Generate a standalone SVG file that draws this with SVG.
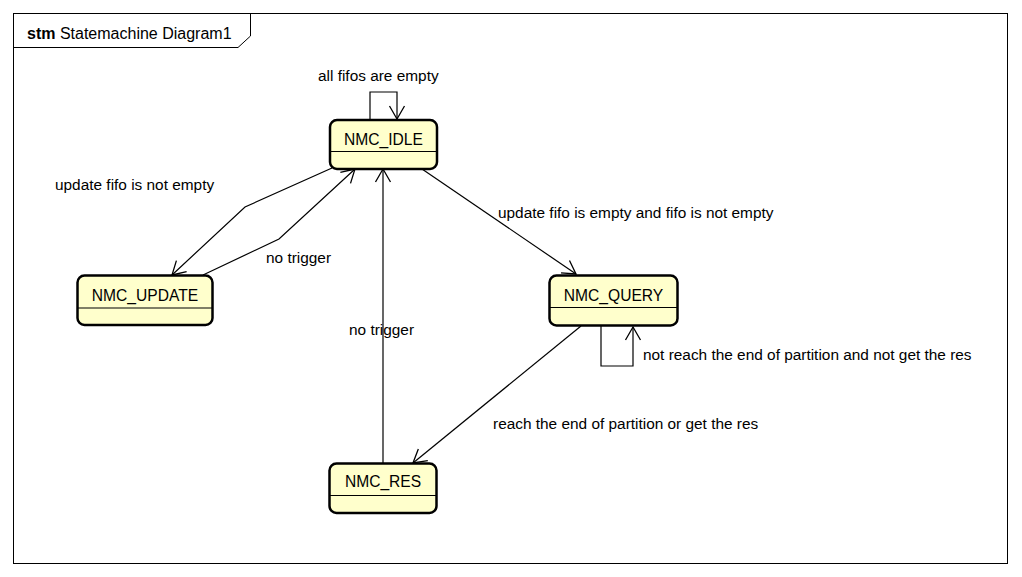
<svg xmlns="http://www.w3.org/2000/svg" width="1022" height="577" viewBox="0 0 1022 577">
<style>
text{font-family:"Liberation Sans",Arial,sans-serif;font-size:15.4px;fill:#000}
.state rect{fill:#FFFFCC;stroke:#000;stroke-width:2.5}
.state line{stroke:#000;stroke-width:1.2}
.state text{text-anchor:middle;font-size:15.6px}
.edge{fill:none;stroke:#000;stroke-width:1.2}
</style>
<defs>
<marker id="arr" markerUnits="userSpaceOnUse" markerWidth="20" markerHeight="20" viewBox="-15 -10 20 20" refX="0" refY="0" orient="auto" overflow="visible">
<path d="M-13,-7.5 L0,0 L-13,7.5" fill="none" stroke="#000" stroke-width="1.3"/>
</marker>
</defs>
<rect width="1022" height="577" fill="#fff"/>
<g id="frame">
<rect x="13.5" y="13.5" width="994" height="550" fill="none" stroke="#000" stroke-width="1"/>
<path d="M13.5,47.5 H238 L250.5,36 V13.5" fill="none" stroke="#000" stroke-width="1"/>
<text x="27" y="39" style="font-size:16px"><tspan font-weight="bold">stm</tspan> Statemachine Diagram1</text>
</g>
<g id="connectors">
<path class="edge" d="M370,120 V92 H397 V119" marker-end="url(#arr)"/>
<path class="edge" d="M332,168 L245,207 L172,275" marker-end="url(#arr)"/>
<path class="edge" d="M203,275 L279,239 L355,169" marker-end="url(#arr)"/>
<path class="edge" d="M383,463 V169" marker-end="url(#arr)"/>
<path class="edge" d="M422,169 L576,274" marker-end="url(#arr)"/>
<path class="edge" d="M601,326 V366 H633 V327" marker-end="url(#arr)"/>
<path class="edge" d="M581,326 L413,463" marker-end="url(#arr)"/>
<text x="318" y="81">all fifos are empty</text>
<text x="55" y="190">update fifo is not empty</text>
<text x="266" y="263">no trigger</text>
<text x="349" y="335">no trigger</text>
<text x="498" y="218">update fifo is empty and fifo is not empty</text>
<text x="643" y="360">not reach the end of partition and not get the res</text>
<text x="493" y="429">reach the end of partition or get the res</text>
</g>
<g id="NMC_IDLE" class="state">
<rect x="330" y="120" width="107" height="49" rx="7"/>
<line x1="331" y1="151.5" x2="436" y2="151.5"/>
<text x="383.5" y="145">NMC_IDLE</text>
</g>
<g id="NMC_UPDATE" class="state">
<rect x="77.5" y="275.5" width="135" height="49.5" rx="7"/>
<line x1="78" y1="308" x2="212" y2="308"/>
<text x="145" y="301">NMC_UPDATE</text>
</g>
<g id="NMC_QUERY" class="state">
<rect x="549.5" y="275.5" width="128" height="50" rx="7"/>
<line x1="550" y1="307.5" x2="677" y2="307.5"/>
<text x="613.5" y="301">NMC_QUERY</text>
</g>
<g id="NMC_RES" class="state">
<rect x="329.5" y="463.5" width="107" height="49.5" rx="7"/>
<line x1="330" y1="495.5" x2="436" y2="495.5"/>
<text x="383" y="487">NMC_RES</text>
</g>
</svg>
